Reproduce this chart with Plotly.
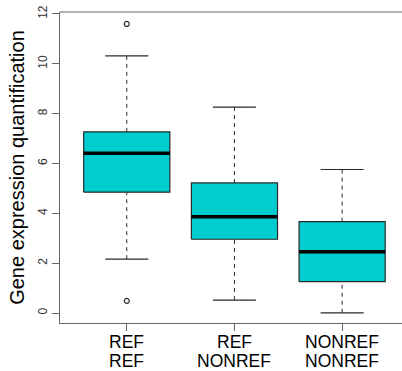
import plotly.graph_objects as go

category_line1 = ["REF", "REF", "NONREF"]
category_line2 = ["REF", "NONREF", "NONREF"]
positions = [1, 2, 3]
q1 = [4.85, 2.96, 1.26]
median = [6.41, 3.86, 2.46]
q3 = [7.27, 5.22, 3.67]
lower_whisker = [2.16, 0.52, 0.01]
upper_whisker = [10.32, 8.26, 5.76]
outlier_x = [1, 1]
outlier_y = [11.6, 0.49]
y_ticks = [0, 2, 4, 6, 8, 10, 12]

BOX_HALF = 0.4
CAP_HALF = 0.2
FILL = "#00CDCD"
EDGE = "#2a2a2a"

fig = go.Figure()

# whiskers (dashed)
wx, wy = [], []
for p, a, b, lo, hi in zip(positions, q1, q3, lower_whisker, upper_whisker):
    wx += [p, p, None, p, p, None]
    wy += [b, hi, None, lo, a, None]
fig.add_trace(go.Scatter(x=wx, y=wy, mode="lines",
                         line=dict(color=EDGE, width=1, dash="4px,4px"),
                         hoverinfo="skip", showlegend=False))

# caps
cx, cy = [], []
for p, lo, hi in zip(positions, lower_whisker, upper_whisker):
    cx += [p - CAP_HALF, p + CAP_HALF, None, p - CAP_HALF, p + CAP_HALF, None]
    cy += [hi, hi, None, lo, lo, None]
fig.add_trace(go.Scatter(x=cx, y=cy, mode="lines",
                         line=dict(color=EDGE, width=1.2),
                         hoverinfo="skip", showlegend=False))

# boxes
for p, a, b in zip(positions, q1, q3):
    fig.add_trace(go.Scatter(
        x=[p - BOX_HALF, p + BOX_HALF, p + BOX_HALF, p - BOX_HALF, p - BOX_HALF],
        y=[a, a, b, b, a], mode="lines", fill="toself", fillcolor=FILL,
        line=dict(color=EDGE, width=1.2), hoverinfo="skip", showlegend=False))

# medians
mx, my = [], []
for p, m in zip(positions, median):
    mx += [p - BOX_HALF, p + BOX_HALF, None]
    my += [m, m, None]
fig.add_trace(go.Scatter(x=mx, y=my, mode="lines",
                         line=dict(color="black", width=3.5),
                         hoverinfo="skip", showlegend=False))

# outliers
fig.add_trace(go.Scatter(x=outlier_x, y=outlier_y, mode="markers",
                         marker=dict(symbol="circle-open", size=5,
                                     color=EDGE, line=dict(width=1.2)),
                         hoverinfo="skip", showlegend=False))

# two-line category labels
annotations = []
for p, t1, t2 in zip(positions, category_line1, category_line2):
    for txt, shift in ((t1, -19), (t2, -38)):
        annotations.append(dict(x=p, y=0, xref="x", yref="paper", text=txt,
                                showarrow=False, xanchor="center", yanchor="middle",
                                yshift=shift, borderpad=0,
                                font=dict(size=17.5, color="black")))

axis_color = "#666666"
fig.update_layout(
    width=402, height=371,
    margin=dict(l=60, r=0, t=12, b=48),
    paper_bgcolor="white", plot_bgcolor="white",
    font=dict(family="Liberation Sans, Arial, sans-serif", color="black"),
    xaxis=dict(range=[0.38, 3.556], tickmode="array", tickvals=positions,
               ticktext=["", "", ""], ticks="outside", ticklen=7, tickcolor=axis_color,
               showline=True, linecolor=axis_color, linewidth=1, automargin=False,
               showgrid=False, zeroline=False),
    yaxis=dict(range=[-0.40, 12.08], tickmode="array", tickvals=y_ticks,
               ticks="outside", ticklen=7, tickcolor=axis_color, tickangle=-90,
               showline=True, linecolor=axis_color, linewidth=1, automargin=False,
               showgrid=False, zeroline=False, tickfont=dict(size=12, color="#333333"),
               title=dict(text="Gene expression quantification",
                          font=dict(size=20, color="black"), standoff=6)),
    annotations=annotations,
    shapes=[dict(type="line", xref="paper", yref="paper", x0=0, x1=1, y0=1, y1=1,
                 line=dict(color=axis_color, width=1))],
)

fig.write_html("out.html")
